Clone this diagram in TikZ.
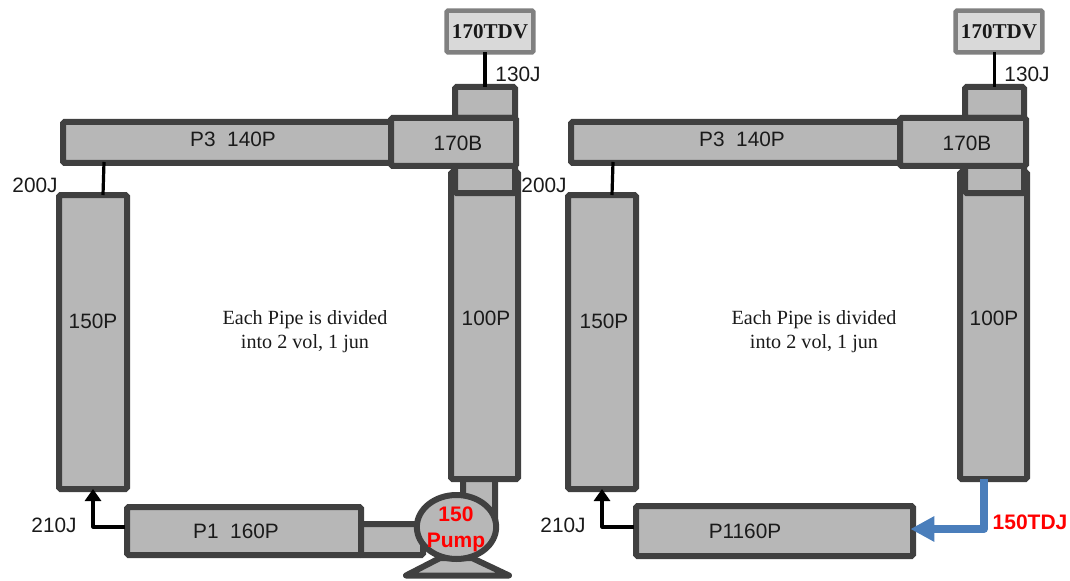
\documentclass[tikz,border=0pt]{standalone}
\usepackage{fontspec}
\setmainfont{Liberation Sans}
\newfontfamily\serifface{Liberation Serif}
\usetikzlibrary{arrows.meta,shapes.geometric}
\definecolor{pipefill}{HTML}{B7B7B7}
\definecolor{pipeline}{HTML}{404040}
\definecolor{tdvfill}{HTML}{D9D9D9}
\definecolor{tdvline}{HTML}{808080}
\definecolor{bluejun}{HTML}{4A7EBB}
\definecolor{txtcol}{HTML}{1A1A1A}
\tikzset{
  pipe/.style={draw=pipeline,fill=pipefill,line width=4.5pt,rounded corners=1.2pt,inner sep=0pt,outer sep=0pt},
  tdvbox/.style={draw=tdvline,fill=tdvfill,line width=3.4pt,rounded corners=1pt,inner sep=0pt,outer sep=0pt,minimum width=65.2pt,minimum height=31.2pt,font=\serifface\bfseries\fontsize{15.8}{18}\selectfont,text=black!90},
  lab/.style={inner sep=0pt,outer sep=0pt,text=txtcol,font=\fontsize{15.6}{19}\selectfont},
  redlab/.style={inner sep=0pt,outer sep=0pt,text=red,align=center,font=\bfseries\fontsize{15.75}{19.5}\selectfont},
  note/.style={inner sep=0pt,outer sep=0pt,text=txtcol,align=center,font=\serifface\fontsize{15.1}{18}\selectfont},
  jun/.style={draw=black,line width=2.4pt},
  junarrow/.style={draw=black,line width=2.4pt,line join=round,-{Triangle[length=9pt,width=12pt]}},
  bluearrow/.style={draw=bluejun,line width=6pt,line join=round,-{Triangle[length=18pt,width=18pt]}},
  pumpbody/.style={ellipse,draw=pipeline,fill=pipefill,line width=4.5pt,inner sep=0pt,outer sep=0pt,minimum width=59.5pt,minimum height=48pt},
  pumpbase/.style={draw=pipeline,fill=pipefill,line width=4.5pt,line join=round},
}
\newcommand{\pipebox}[5]{%
  \pgfmathsetmacro\pw{(#4-#2-4)*0.75}%
  \pgfmathsetmacro\ph{(#5-#3-4)*0.75}%
  \pgfmathsetmacro\cx{(#2+#4)/2}%
  \pgfmathsetmacro\cy{(#3+#5)/2}%
  \node[pipe,minimum width=\pw pt,minimum height=\ph pt] (#1) at (\cx,\cy) {};}
\begin{document}
\begin{tikzpicture}[x=0.75pt,y=-0.75pt]
\useasboundingbox (0,0) rectangle (1070,581);
% ---- left loop ----
\pipebox{aVert}{461}{475}{497}{525}
\pipebox{aToppipe}{453}{85}{517}{120}
\pipebox{aPthree}{61}{120}{394}{165}
\pipebox{aHundred}{449}{170}{520}{481}
\pipebox{aLower}{453}{160}{517}{195}
\pipebox{aBranch}{389}{116}{518}{168}
\pipebox{aOneFifty}{57}{193}{129}{491}
\pipebox{aHoriz}{358}{522}{425}{557}
\pipebox{aPone}{125}{505}{363}{557}
\draw[pumpbase] (406,575.5) -- (440,558) -- (472,558) -- (509,575.5) -- cycle;
\node[pumpbody] (aPump) at (456.5,527) {};
\node[tdvbox] (aTdv) at (490,31.5) {170TDV};
\draw[jun] (aToppipe.north) -- (aToppipe.north |- aTdv.south);
\coordinate (aJunTop) at (104,162);
\coordinate (aJunBot) at (103,195);
\draw[jun] (aJunTop) -- (aJunBot);
\coordinate (aJunStart) at (125,527);
\draw[junarrow] (aJunStart) -| (aOneFifty.south);
\node[lab] (aL1) at (233,139) {P3\ \ 140P};
\node[lab] (aL2) at (458,143) {170B};
\node[lab] (aL3) at (93,321) {150P};
\node[lab] (aL4) at (486,318) {100P};
\node[lab] (aL5) at (236,531) {P1\ \ 160P};
\node[lab] (aL6) at (518,74) {130J};
\node[lab] (aL7) at (35,185) {200J};
\node[lab] (aL8) at (54,525) {210J};
\node[redlab] (aPumpLab) at (456,529.5) {150\\Pump};
\node[note] (aNote) at (305,332) {Each Pipe is divided\\[0pt]into 2 vol, 1 jun};
% ---- right loop ----
\pipebox{bToppipe}{963}{85}{1026}{120}
\pipebox{bPthree}{569}{120}{903}{165}
\pipebox{bHundred}{958}{170}{1029}{481}
\pipebox{bLower}{963}{160}{1026}{195}
\pipebox{bBranch}{898}{116}{1028}{168}
\pipebox{bOneFifty}{566}{193}{638}{491}
\pipebox{bPone}{634}{504}{915}{558}
\node[tdvbox] (bTdv) at (999,31.5) {170TDV};
\draw[jun] (bToppipe.north) -- (bToppipe.north |- bTdv.south);
\coordinate (bJunTop) at (613,162);
\coordinate (bJunBot) at (612,195);
\draw[jun] (bJunTop) -- (bJunBot);
\coordinate (bJunStart) at (634,527);
\draw[junarrow] (bJunStart) -| (bOneFifty.south);
\coordinate (bCorner) at (984,529);
\draw[bluearrow,shorten >=-2pt] (bHundred.south -| bCorner) -- (bCorner) -- (bPone.east |- bCorner);
\node[lab] (bL1) at (742,139) {P3\ \ 140P};
\node[lab] (bL2) at (967,143) {170B};
\node[lab] (bL3) at (604,321) {150P};
\node[lab] (bL4) at (994,318) {100P};
\node[lab] (bL5) at (745,531) {P1160P};
\node[lab] (bL6) at (1027,74) {130J};
\node[lab] (bL7) at (544,185) {200J};
\node[lab] (bL8) at (563,525) {210J};
\node[redlab] (bTdj) at (1030,522) {150TDJ};
\node[note] (bNote) at (814,332) {Each Pipe is divided\\[0pt]into 2 vol, 1 jun};
\end{tikzpicture}
\end{document}
